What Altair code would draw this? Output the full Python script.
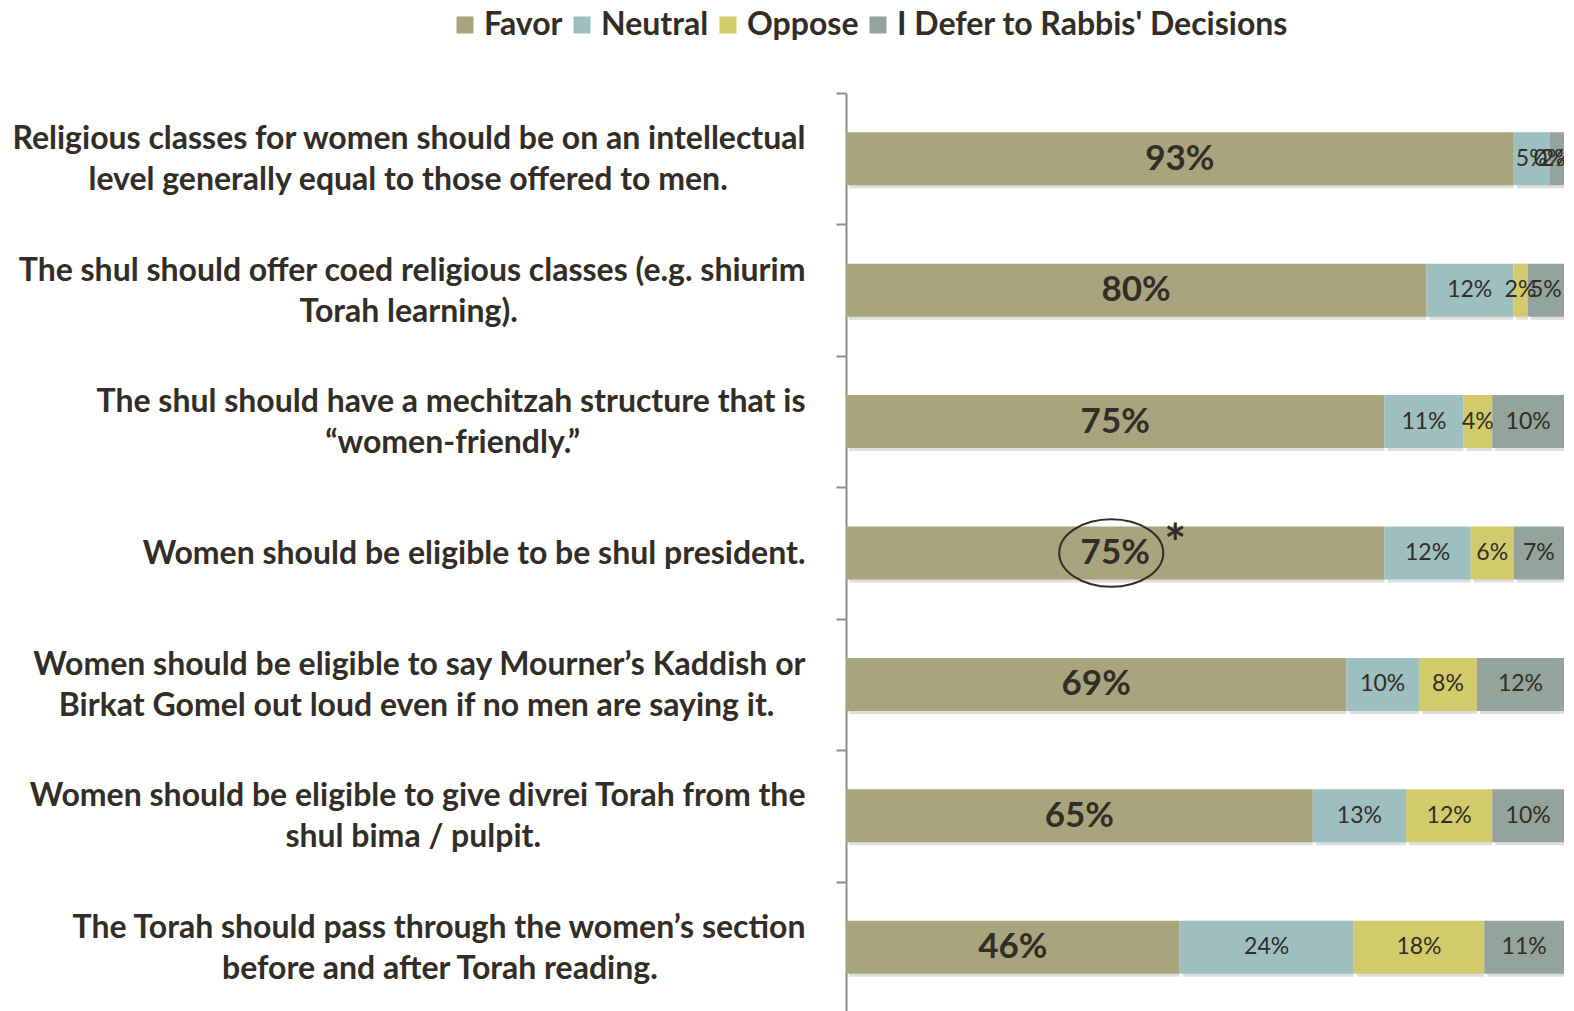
import altair as alt
import pandas as pd

NB = "\u00a0"
ZW = "\u200b"

# Question label lines and centering pads (count of no-break spaces added to shorter lines)
question_lines = [
    ["Religious classes for women should be on an intellectual",
     "level generally equal to those offered to men."],
    ["The shul should offer coed religious classes (e.g. shiurim",
     "Torah learning)."],
    ["The shul should have a mechitzah structure that is",
     "\u201cwomen-friendly.\u201d"],
    ["Women should be eligible to be shul president."],
    ["Women should be eligible to say Mourner\u2019s Kaddish or",
     "Birkat Gomel out loud even if no men are saying it."],
    ["Women should be eligible to give divrei Torah from the",
     "shul bima / pulpit."],
    ["The Torah should pass through the women\u2019s section",
     "before and after Torah reading."],
]
line_pads = [[0, 10], [0, 37], [0, 29], [0], [0, 4], [0, 34], [0, 19]]

responses = ["Favor", "Neutral", "Oppose", "I Defer to Rabbis' Decisions"]
favor = [93, 80, 75, 75, 69, 65, 46]
neutral = [5, 12, 11, 12, 10, 13, 24]
oppose = [0, 2, 4, 6, 8, 12, 18]
defer = [2, 5, 10, 7, 12, 10, 11]
colors = ["#A8A47D", "#9DBFBF", "#D2CB6C", "#94A39B"]

questions = [
    "|".join(line + (NB * pad + ZW if pad else "") for line, pad in zip(lines, pads))
    for lines, pads in zip(question_lines, line_pads)
]

rows = []
for i, q in enumerate(questions):
    for k, (r, vals) in enumerate(zip(responses, [favor, neutral, oppose, defer])):
        rows.append({"question": q, "response": r, "order": k, "value": vals[i]})
df = pd.DataFrame(rows)

circled_q = questions[3]

TXT = "#322D26"
FONT = "Lato"

base = alt.Chart(df).transform_window(
    cum="sum(value)", groupby=["question"], sort=[alt.SortField("order")],
    frame=[None, 0]
).transform_joinaggregate(
    total="sum(value)", groupby=["question"]
).transform_calculate(
    x_end="datum.cum / datum.total * 100",
    x_start="(datum.cum - datum.value) / datum.total * 100",
    mid="(2 * datum.cum - datum.value) / datum.total * 50",
    lbl="datum.value + '%'",
)

yenc = alt.Y(
    "question:N", sort=questions,
    scale=alt.Scale(paddingInner=0, paddingOuter=0),
    axis=alt.Axis(
        title=None, labelExpr="split(datum.label, '|')",
        labelFont=FONT, labelFontWeight="bold", labelFontSize=32,
        labelColor=TXT, labelLineHeight=41, labelLimit=1000,
        labelPadding=31, labelAlign="right", labelBaseline="middle",
        labelOffset={"condition": {"test": "indexof(datum.label, '|') < 0", "value": 0},
                     "value": -20},
        tickBand="extent", tickSize=10, tickColor="#8C8C8C", tickWidth=2,
        domainColor="#8C8C8C", domainWidth=2, grid=False,
    ),
)
xscale = alt.Scale(domain=[0, 100], nice=False, zero=False)

shadow = base.mark_bar(size=53, color="#7A7A7A", opacity=0.25, xOffset=3, yOffset=3).encode(
    x=alt.X("x_start:Q", scale=xscale, axis=None),
    x2="x_end:Q",
    y=yenc,
)

bars = base.mark_bar(size=53).encode(
    x=alt.X("x_start:Q", scale=xscale, axis=None),
    x2="x_end:Q",
    y=yenc,
    color=alt.Color(
        "response:N",
        scale=alt.Scale(domain=responses, range=colors),
        sort=responses,
        legend=alt.Legend(
            title=None, orient="none", direction="horizontal",
            legendX=-397, legendY=-84,
            symbolType="square", symbolSize=289, symbolStrokeWidth=0,
            labelFont=FONT, labelFontWeight="bold", labelFontSize=32,
            labelColor=TXT, labelOffset=3, columnPadding=3, labelLimit=700,
        ),
    ),
)

big = base.transform_filter("datum.order == 0").mark_text(
    font=FONT, fontWeight="bold", fontSize=35, color=TXT, baseline="middle"
).encode(x=alt.X("mid:Q", scale=xscale), y=yenc, text="lbl:N")

small = base.transform_filter("datum.order > 0").mark_text(
    font=FONT, fontSize=23, color=TXT, baseline="middle"
).encode(x=alt.X("mid:Q", scale=xscale), y=yenc, text="lbl:N")

ellipse = base.transform_filter(
    alt.FieldEqualPredicate(field="question", equal=circled_q)
).transform_filter("datum.order == 0").mark_point(
    shape="M -1 0 A 1 0.65 0 1 1 1 0 A 1 0.65 0 1 1 -1 0 Z",
    size=10816, filled=False, stroke=TXT, strokeWidth=2, opacity=1, xOffset=-4,
).encode(x=alt.X("mid:Q", scale=xscale), y=yenc)

star = base.transform_filter(
    alt.FieldEqualPredicate(field="question", equal=circled_q)
).transform_filter("datum.order == 0").mark_text(
    text="*", font=FONT, fontWeight="bold", fontSize=52, color=TXT,
    dx=60, dy=-7, baseline="middle",
).encode(x=alt.X("mid:Q", scale=xscale), y=yenc)

chart = alt.layer(shadow, bars, big, small, ellipse, star).properties(
    width=718, height=920,
    autosize=alt.AutoSizeParams(type="none"),
    padding={"left": 838, "top": 85, "right": 0, "bottom": 0},
).configure(background="white", view=alt.ViewConfig(stroke=None))

chart.save("out.html", embed_options={"renderer": "svg", "actions": False})
